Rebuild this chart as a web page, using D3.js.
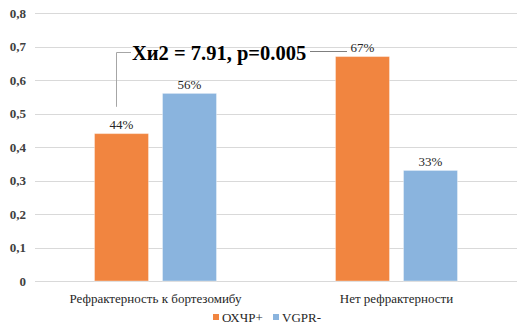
<!DOCTYPE html>
<html><head><meta charset="utf-8">
<script src="https://cdn.jsdelivr.net/npm/d3@7"></script>
<style>body{margin:0;background:#fff}svg{display:block}</style>
</head><body>
<svg id="c" width="524" height="328"></svg>
<script>
const categories = ["Рефрактерность к бортезомибу", "Нет рефрактерности"];
const seriesNames = ["ОХЧР+", "VGPR-"];
const seriesA = [0.44, 0.67];
const seriesB = [0.56, 0.33];
const valueLabelsA = ["44%", "67%"];
const valueLabelsB = ["56%", "33%"];
const yTicks = [0, 0.1, 0.2, 0.3, 0.4, 0.5, 0.6, 0.7, 0.8];
const annotationText = "Хи2 = 7.91, p=0.005";

const colors = ["#F18540", "#8AB4DE"];
const FF = '"Liberation Serif"';
const svg = d3.select("#c");
const pLeft = 35, pRight = 517, pTop = 13, pBottom = 281;

const y = d3.scaleLinear().domain([0, 0.8]).range([pBottom, pTop]);
const x0 = d3.scaleBand().domain(categories).range([pLeft, pRight]);
const x1 = d3.scaleBand().domain(seriesNames).range([0, x0.bandwidth()]).paddingInner(0.206).paddingOuter(0.875);

// grid
svg.append("g").selectAll("line").data(yTicks).join("line")
  .attr("x1", pLeft).attr("x2", pRight)
  .attr("y1", d => Math.round(y(d)) + 0.5).attr("y2", d => Math.round(y(d)) + 0.5)
  .attr("stroke", "#d9d9d9").attr("stroke-width", 1);

// y axis labels
const yAxis = d3.axisLeft(y).tickValues(yTicks).tickSize(0).tickPadding(9)
  .tickFormat(d => d === 0 ? "0" : d3.format(".1f")(d).replace(".", ","));
const ga = svg.append("g").attr("transform", `translate(${pLeft},0)`).call(yAxis);
ga.select(".domain").remove();
ga.selectAll("text").style("font-family", FF).style("font-size", "13px").style("font-weight", "bold").attr("fill", "#404040");

// bars
const rows = categories.map((c, i) => ({cat: c, vals: [
  {s: seriesNames[0], v: seriesA[i], lab: valueLabelsA[i], col: colors[0]},
  {s: seriesNames[1], v: seriesB[i], lab: valueLabelsB[i], col: colors[1]}]}));
const g = svg.append("g").selectAll("g").data(rows).join("g")
  .attr("transform", d => `translate(${x0(d.cat)},0)`);
g.selectAll("rect").data(d => d.vals).join("rect")
  .attr("x", d => x1(d.s)).attr("width", x1.bandwidth())
  .attr("y", d => y(d.v)).attr("height", d => y(0) - y(d.v))
  .attr("fill", d => d.col).attr("stroke", "rgba(255,255,255,0.35)").attr("stroke-width", 1);
g.selectAll("text").data(d => d.vals).join("text")
  .attr("x", d => x1(d.s) + x1.bandwidth() / 2).attr("y", d => y(d.v) - 4.5)
  .attr("text-anchor", "middle").style("font-family", FF).style("font-size", "13px").attr("fill", "#262626")
  .text(d => d.lab);

// category labels
svg.append("g").selectAll("text").data(categories).join("text")
  .attr("x", d => x0(d) + x0.bandwidth() / 2).attr("y", 303)
  .attr("text-anchor", "middle").style("font-family", FF).style("font-size", "13px").attr("fill", "#262626")
  .text(d => d);

// annotation
const ax = x0(categories[0]) + x1(seriesNames[0]) + x1.bandwidth() * 0.39;
svg.append("path")
  .attr("d", `M${Math.round(ax)+0.5},${y(0.52)} V${Math.round(y(0.685))+0.5} H131`)
  .attr("fill", "none").attr("stroke", "#a6a6a6").attr("stroke-width", 1);
svg.append("line").attr("x1", 310).attr("x2", 347)
  .attr("y1", Math.round(y(0.688))+0.5).attr("y2", Math.round(y(0.688))+0.5)
  .attr("stroke", "#7f7f7f").attr("stroke-width", 1);
svg.append("text").attr("x", 132).attr("y", 60)
  .style("font-family", FF).style("font-size", "20.5px").style("font-weight", "bold").attr("fill", "#000")
  .text(annotationText);

// legend
const leg = svg.append("g").selectAll("g").data(seriesNames).join("g")
  .attr("transform", (d, i) => `translate(${[213, 273][i]},314)`);
leg.append("rect").attr("width", 6).attr("height", 6).attr("fill", (d, i) => colors[i]);
leg.append("text").attr("x", 9).attr("y", 7.5).style("font-family", FF).style("font-size", "13px").attr("fill", "#262626").text(d => d);
</script>
</body></html>
